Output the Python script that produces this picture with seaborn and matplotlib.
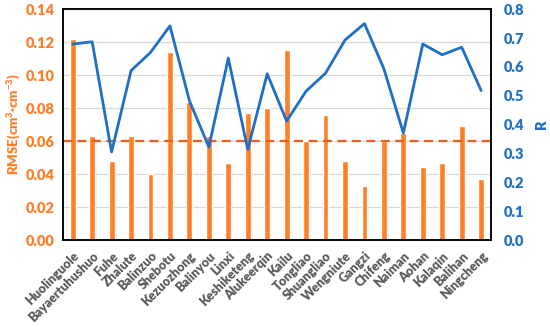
import numpy as np
import matplotlib
matplotlib.use('Agg')
import matplotlib.pyplot as plt
import seaborn as sns
import pandas as pd

sites = ['Huolinguole', 'Bayaertuhushuo', 'Fuhe', 'Zhalute', 'Balinzuo', 'Shebotu',
         'Kezuozhong', 'Balinyou', 'Linxi', 'Keshiketeng', 'Alukeerqin', 'Kailu',
         'Tongliao', 'Shuangliao', 'Wengniute', 'Gangzi', 'Chifeng', 'Naiman',
         'Aohan', 'Kalaqin', 'Balihan', 'Ningcheng']
rmse = [0.122, 0.063, 0.048, 0.063, 0.040, 0.114, 0.084, 0.063, 0.047, 0.077, 0.080,
        0.115, 0.060, 0.076, 0.048, 0.033, 0.060, 0.065, 0.044, 0.047, 0.069, 0.037]
r_vals = [0.679, 0.687, 0.305, 0.587, 0.650, 0.742, 0.483, 0.322, 0.630, 0.314, 0.576,
          0.412, 0.516, 0.578, 0.693, 0.750, 0.593, 0.371, 0.679, 0.642, 0.668, 0.518]
rmse_ref = 0.06

orange = '#FF7F27'
blue = '#1F6FC5'

sns.set_style('white')
plt.rcParams['font.family'] = ['Lato', 'DejaVu Sans']
plt.rcParams['font.weight'] = 'heavy'
plt.rcParams['mathtext.default'] = 'regular'

df = pd.DataFrame({'site': sites, 'rmse': rmse, 'r': r_vals})
df['pos'] = np.arange(len(sites))

fig = plt.figure(figsize=(5.5, 3.27), dpi=100)
ax = fig.add_axes([0.1145, 0.266, 0.778, 0.706])

sns.barplot(data=df, x='site', y='rmse', color=orange, saturation=1, width=0.3, ax=ax, zorder=2)
ax.axhline(rmse_ref, color='#E8601C', ls=(0, (4, 2.5)), lw=1.6, zorder=3)
ax.set_ylim(0, 0.14)
ax.set_yticks(np.arange(0, 0.141, 0.02))
ax.set_yticklabels([f'{v:.2f}' for v in np.arange(0, 0.141, 0.02)], color=orange, fontsize=10.5, fontweight='heavy')
ax.yaxis.grid(True, color='#D9D9D9', lw=0.9, zorder=0)
ax.set_axisbelow(True)
ax.set_xlim(-0.5, len(sites) - 0.5)
ax.set_xlabel('')
ax.set_ylabel('RMSE(cm$^{3}$·cm$^{-3}$)', color=orange, fontsize=9.5, fontweight='heavy', labelpad=2)
ax.set_xticks(df['pos'])
ax.set_xticklabels(sites, rotation=45, ha='right', rotation_mode='anchor', color='#595959',
                   fontsize=9, fontweight='heavy')
ax.tick_params(axis='y', length=0, pad=6)
ax.tick_params(axis='x', length=0, pad=7)
for s in ax.spines.values():
    s.set_color('black')
    s.set_linewidth(1.1)

ax2 = ax.twinx()
sns.lineplot(data=df, x='pos', y='r', color=blue, lw=2, ax=ax2, zorder=4)
ax2.set_ylim(0, 0.8)
ax2.set_yticks(np.arange(0, 0.81, 0.1))
ax2.set_yticklabels([f'{v:.1f}' for v in np.arange(0, 0.81, 0.1)], color=blue, fontsize=10.5, fontweight='heavy')
ax2.set_ylabel('R', color=blue, fontsize=10.5, fontweight='heavy', labelpad=8)
ax2.tick_params(axis='y', length=0, pad=9)
ax2.set_xlim(-0.5, len(sites) - 0.5)
ax2.set_xlabel('')
for s in ax2.spines.values():
    s.set_color('black')
    s.set_linewidth(1.1)

fig.savefig('out.png', dpi=100)
